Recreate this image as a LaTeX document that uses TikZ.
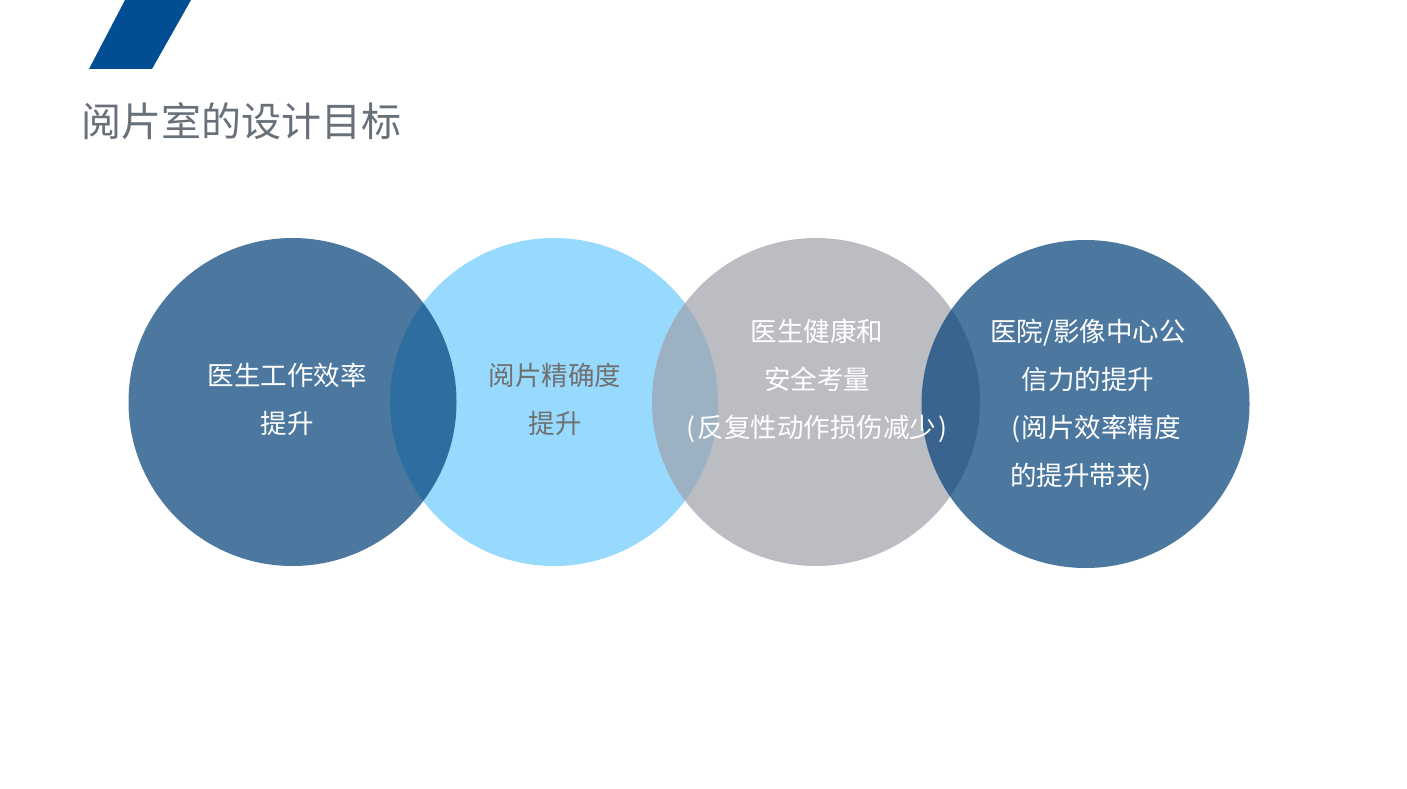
\documentclass[tikz,border=0pt]{standalone}
\usepackage{fontspec}
\newfontfamily\cjk{Noto Sans CJK SC}
\definecolor{barblue}{HTML}{024E93}
\definecolor{titlegray}{HTML}{68707A}
\definecolor{deepblue}{RGB}{3,65,121}
\definecolor{skyblue}{RGB}{151,218,253}
\definecolor{stone}{RGB}{159,162,169}
\definecolor{textgray}{HTML}{707070}
\tikzset{
  goal/.style={circle, minimum size=328pt, inner sep=0pt, draw=none},
  bluegoal/.style={goal, fill=deepblue, fill opacity=0.71},
  skygoal/.style={goal, fill=skyblue},
  stonegoal/.style={goal, fill=stone, fill opacity=0.7},
  label/.style={align=center, inner sep=0pt, font=\cjk\fontsize{26.5}{48}\selectfont},
}
\begin{document}
\begin{tikzpicture}[x=1pt,y=-1pt]
\useasboundingbox (0,0) rectangle (1407,789);
\fill[white] (0,0) rectangle (1407,789);
% corner bar
\fill[barblue] (89,69) -- (152,69) -- (191,0) -- (125,0) -- cycle;
% title
\node[anchor=west, inner sep=0pt, text=titlegray, font=\cjk\fontsize{40}{48}\selectfont] (title) at (81,121) {阅片室的设计目标};
% circles
\node[skygoal] (c2) at (554,402) {};
\node[bluegoal] (c1) at (292.5,402) {};
\node[stonegoal] (c3) at (816,402) {};
\node[bluegoal] (c4) at (1085.5,404) {};
% labels
\node[label, text=white] (t1) at (287,399) {医生工作效率\\提升};
\node[label, text=textgray] (t2) at (555,399) {阅片精确度\\提升};
\node[label, text=white] (t3) at (817,381) {医生健康和\\安全考量\\(\kern2pt反复性动作损伤减少\kern2pt)};
\node[label, text=white] (t4) at (1088,404.5) {医院/影像中心公\\信力的提升\\\hspace*{16pt}(\kern2pt阅片效率精度\\的提升带来)\hspace*{14pt}};
\end{tikzpicture}
\end{document}
